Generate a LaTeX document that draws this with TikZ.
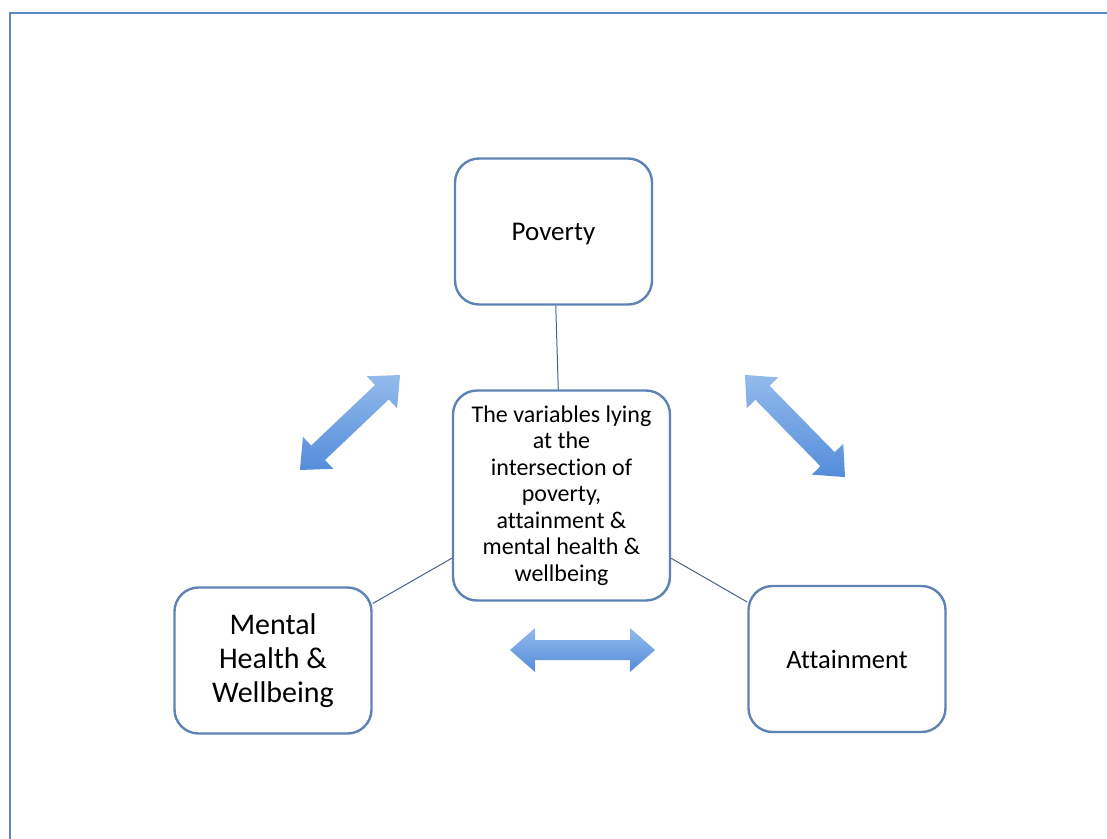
\documentclass[tikz,border=0pt]{standalone}
\usepackage{fontspec}
\setmainfont[Ligatures={NoCommon,NoRequired,NoContextual}]{Carlito}
\usepackage{xcolor}
\usepackage{tikz}
\usetikzlibrary{positioning}
\definecolor{boxblue}{HTML}{5F82B5}
\definecolor{framblue}{HTML}{5B87C7}
\definecolor{linegrey}{HTML}{4A6282}
\definecolor{arrowlight}{HTML}{93BAEC}
\definecolor{arrowdark}{HTML}{548DDA}
\tikzset{
    factor/.style={
        rectangle,
        rounded corners=24pt,
        draw=boxblue,
        line width=2.4pt,
        fill=white,
        text centered,
        align=center,
        minimum width=197pt,
        minimum height=146pt,
        inner sep=0pt
    },
    link/.style={
        draw=linegrey,
        line width=1pt
    },
    bigarrow/.style={
        top color=arrowlight,
        bottom color=arrowdark,
        draw=none
    }
}
% double headed block arrow: centre, angle, length
\newcommand{\dualarrow}[3]{%
  \begin{scope}[shift={#1}, rotate=#2]
    \pgfmathsetmacro{\half}{#3/2}
    \pgfmathsetmacro{\neck}{#3/2-25}
    \shade[bigarrow] (-\half,0) -- (-\neck,22) -- (-\neck,10) -- (\neck,10) -- (\neck,22) -- (\half,0)
      -- (\neck,-22) -- (\neck,-10) -- (-\neck,-10) -- (-\neck,-22) -- cycle;
  \end{scope}}

\begin{document}
\begin{tikzpicture}[x=1pt, y=-1pt]
          \useasboundingbox (0,0) rectangle (1107,838);
          \draw [framblue, line width=2.5pt] (10,845) -- (10,13) -- (1115,13);
          \node (poverty) [factor, text depth=0pt, font=\fontsize{27pt}{30pt}\selectfont] at (553.5,231.5) {Poverty};
          \node (centre) [factor, minimum width=217pt, minimum height=210pt, font=\fontsize{24pt}{26.5pt}\selectfont] at (561.5,495.5) {The variables lying\\at the\\intersection of\\poverty,\\attainment \&\\mental health \&\\wellbeing};
          \node (mental) [factor, font=\fontsize{30pt}{34pt}\selectfont] at (273,660.5) {Mental\\Health \&\\Wellbeing};
          \node (attain) [factor, text depth=0pt, font=\fontsize{26.5pt}{30pt}\selectfont] at (847,659) {Attainment};
          \draw [link] (poverty) -- (centre);
          \draw [link] (centre) -- (mental);
          \draw [link] (centre) -- (attain);
          \dualarrow{(350,422.5)}{43.5}{138}
          \dualarrow{(795,426)}{-45.6}{143}
          \dualarrow{(582.5,650)}{0}{145}
        \end{tikzpicture}
\end{document}
